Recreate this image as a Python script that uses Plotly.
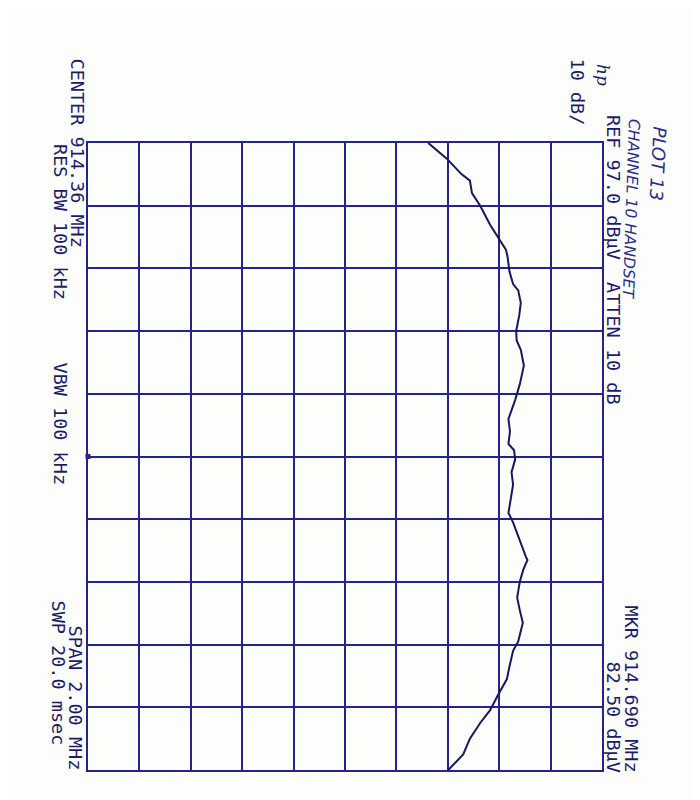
import plotly.graph_objects as go

# spectrum analyzer plot 13 (scanned sheet, drawn sideways)
freq_mhz = [913.36, 913.41, 913.46, 913.48, 913.52, 913.56, 913.62, 913.67, 913.70, 913.72,
            913.77, 913.81, 913.83, 913.87, 913.91, 913.96, 913.99, 914.02, 914.07, 914.13,
            914.18, 914.24, 914.28, 914.32, 914.34, 914.37, 914.41, 914.45, 914.48, 914.54,
            914.57, 914.63, 914.68, 914.69, 914.72, 914.76, 914.81, 914.85, 914.89, 914.95,
            914.98, 915.03, 915.07, 915.12, 915.17, 915.21, 915.26, 915.31, 915.36]
level_dbuv = [63.2, 66.8, 69.7, 71.3, 71.7, 73.3, 75.2, 77.2, 78.3, 78.6,
              79.0, 79.7, 80.7, 81.2, 80.9, 80.3, 80.4, 81.2, 81.8, 81.0,
              80.1, 78.8, 79.1, 78.8, 79.9, 80.1, 79.4, 79.7, 79.4, 78.8,
              79.7, 81.0, 82.2, 82.5, 81.7, 81.0, 80.5, 81.0, 81.6, 80.7,
              79.7, 79.0, 78.5, 76.8, 75.2, 73.3, 71.3, 70.0, 67.1]

center_mhz = 914.36
span_mhz = 2.00
ref_dbuv = 97.0
db_per_div = 10

# page has an 8px body margin, so the figure is a bit smaller than the window
OFF = 8
W, H = 692, 792
L, R, T, B = 80, 98, 135, 30
grid_col = '#24248a'
ink = '#1c1c66'
pen = '#2c2c86'


def px(x):
    # page pixel -> paper fraction
    return (x - OFF - L) / (W - L - R)


def py(y):
    return (H - B - (y - OFF)) / (H - T - B)


def note(text, x, y, yanchor='top', size=18.5, color=ink, family='DejaVu Sans Mono', angle=90, italic=False):
    return dict(text=text, x=px(x), y=py(y), xref='paper', yref='paper', showarrow=False,
                textangle=angle, xanchor='center', yanchor=yanchor,
                font=dict(family=family, size=size, color=color,
                          style='italic' if italic else 'normal'))


trace = go.Scatter(x=level_dbuv, y=freq_mhz, mode='lines',
                   line=dict(color='#17175a', width=2), showlegend=False)
center_mark = go.Scatter(x=[ref_dbuv - 10 * db_per_div], y=[center_mhz], mode='markers',
                         marker=dict(symbol='square', size=5, color=grid_col),
                         cliponaxis=False, showlegend=False)

layout = go.Layout(
    width=W, height=H,
    margin=dict(l=L, r=R, t=T, b=B),
    paper_bgcolor='#fdfdfc', plot_bgcolor='#fdfdfc',
    xaxis=dict(range=[ref_dbuv - 10 * db_per_div, ref_dbuv], tick0=ref_dbuv, dtick=db_per_div,
               showticklabels=False, ticks='', showgrid=True, gridcolor=grid_col, gridwidth=1.5,
               zeroline=False, showline=True, linecolor=grid_col, linewidth=2, mirror=True),
    yaxis=dict(range=[center_mhz + span_mhz / 2, center_mhz - span_mhz / 2],
               tick0=center_mhz - span_mhz / 2, dtick=span_mhz / 10,
               showticklabels=False, ticks='', showgrid=True, gridcolor=grid_col, gridwidth=1.5,
               zeroline=False, showline=True, linecolor=grid_col, linewidth=2, mirror=True),
    annotations=[
        note('CENTER 914.36 MHz', 77, 56),
        note('RES BW 100 kHz', 60, 142),
        note('VBW 100 kHz', 60, 360),
        note('SPAN 2.00 MHz', 75, 772, yanchor='bottom'),
        note('SWP 20.0 msec', 58, 747, yanchor='bottom'),
        note('10 dB/', 577, 56),
        note('REF 97.0 dBµV  ATTEN 10 dB', 614, 113),
        note('MKR 914.690 MHz', 631, 774, yanchor='bottom'),
        note('82.50 dBµV', 613, 774, yanchor='bottom'),
        note('hp', 603, 62, size=17, family='DejaVu Serif', italic=True),
        note('PLOT 13', 658, 124, size=18, family='DejaVu Sans', color=pen, angle=93, italic=True),
        note('CHANNEL 10 HANDSET', 631, 116, size=15.5, family='DejaVu Sans', color=pen, angle=92, italic=True),
    ],
)

fig = go.Figure(data=[trace, center_mark], layout=layout)
fig.write_html('out.html')
